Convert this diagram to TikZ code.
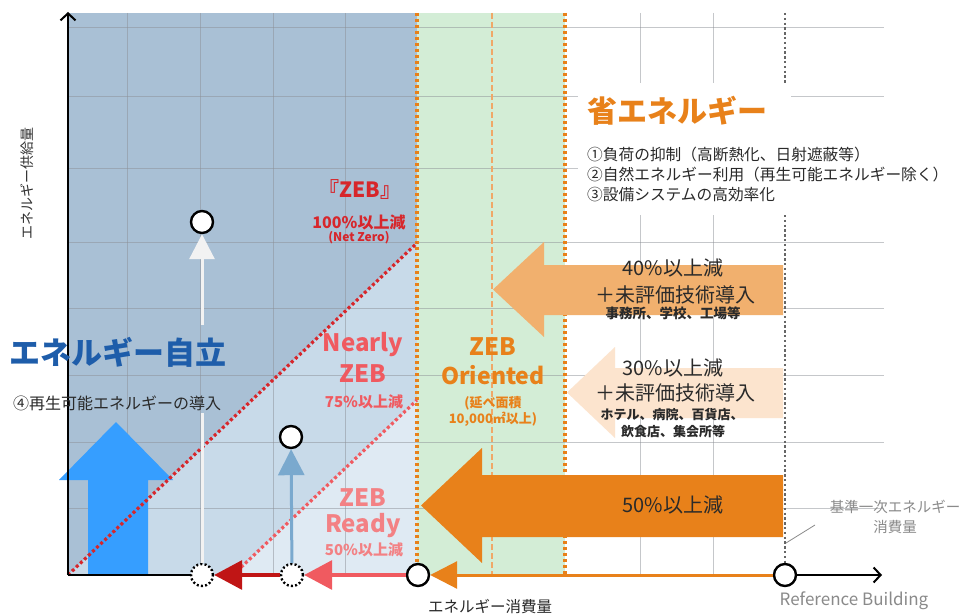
\documentclass[tikz,border=0pt]{standalone}
\usepackage{fontspec}
\setmainfont{Noto Sans CJK JP}
\usetikzlibrary{arrows.meta}
\definecolor{bgdark}{HTML}{A9C0D5}
\definecolor{bgmid}{HTML}{C8DAE9}
\definecolor{bglight}{HTML}{DFEAF3}
\definecolor{zgreen}{HTML}{D3EDD6}
\definecolor{zorange}{HTML}{E8811A}
\definecolor{lorange}{HTML}{F1B06E}
\definecolor{dashor}{HTML}{F0A868}
\definecolor{peach}{HTML}{FCE4CE}
\definecolor{zred}{HTML}{D7262B}
\definecolor{nred}{HTML}{F05A60}
\definecolor{rpink}{HTML}{F38184}
\definecolor{darkred}{HTML}{C01515}
\definecolor{bigblue}{HTML}{369EFF}
\definecolor{stblue}{HTML}{7AA9CE}
\definecolor{jblue}{HTML}{1E5DAA}
\definecolor{txt}{HTML}{2A2A2A}
\definecolor{greytxt}{HTML}{8A8A8A}
\definecolor{gridc}{HTML}{8C9096}
\tikzset{
  gridline/.style={draw=gridc, draw opacity=0.5, line width=0.8pt},
  pt/.style={circle, draw=black, line width=2.4pt, fill=white, minimum size=22pt, inner sep=0pt},
  dpt/.style={circle, draw=black, line width=2.4pt, dash pattern=on 2pt off 2.2pt, fill=white, minimum size=22pt, inner sep=0pt},
  lbl/.style={inner sep=0pt, text=txt},
  fs/.style={font=\fontsize{#1}{#1}\selectfont},
  fsb/.style={font=\fontsize{#1}{#1}\selectfont\bfseries},
  ordot/.style={draw=zorange, line width=3.2pt, dash pattern=on 3pt off 3pt},
  reddot/.style={line width=3.2pt, dash pattern=on 3pt off 2.6pt},
}
\begin{document}
\begin{tikzpicture}[x=1pt,y=-1pt]
\path[fill=white, use as bounding box] (0,0) rectangle (967,615);
% background regions
\fill[bgdark] (68,13) rectangle (417,575);
\fill[bgmid] (68,575) -- (417,243) -- (417,575) -- cycle;
\fill[bglight] (233,575) -- (417,400) -- (417,575) -- cycle;
\fill[zgreen] (417,13) rectangle (565,575);
% grid
\foreach \gx in {127,200,273,345,640,713} \draw[gridline] (\gx,13) -- (\gx,575);
\foreach \gy in {27,96,168,242,308,375,442,508} \draw[gridline] (68,\gy) -- (884,\gy);
% white boxes behind energy saving text
\fill[white] (578,83) rectangle (791,215);
\fill[white] (791,135) rectangle (965,215);
% vertical guide lines
\draw[ordot] (417,13) -- (417,575);
\draw[ordot] (565,13) -- (565,575);
\draw[draw=dashor, line width=1.6pt, dash pattern=on 6pt off 3pt] (492,13) -- (492,575);
\draw[draw=gray!80!black, line width=2.6pt, dash pattern=on 2.4pt off 2.4pt] (785,13) -- (785,83);
\draw[draw=gray!80!black, line width=2.6pt, dash pattern=on 2.4pt off 2.4pt] (785,215) -- (785,563);
% big reduction arrows
\fill[lorange] (783,265) -- (544,265) -- (544,242) -- (493,289.5) -- (544,337) -- (544,315) -- (783,315) -- cycle;
\fill[peach] (783,368) -- (615,368) -- (615,347) -- (567,392.5) -- (615,438) -- (615,418) -- (783,418) -- cycle;
\fill[zorange] (783,475) -- (482,475) -- (482,448) -- (421,505.5) -- (482,563) -- (482,537) -- (783,537) -- cycle;
% blue big arrow
\fill[bigblue] (88,575) -- (88,480) -- (59,480) -- (116,422) -- (173,480) -- (148,480) -- (148,575) -- cycle;
% diagonals
\draw[reddot, draw=zred] (68,575) -- (417,243);
\draw[reddot, draw=nred] (233,575) -- (417,400);
% points
\coordinate (O) at (68,575);
\coordinate (ytop) at (68,12);
\coordinate (xend) at (882,575);
\node[pt] (ref) at (785,575) {};
\node[pt] (zeb) at (418,575) {};
\node[dpt] (c2) at (292,575) {};
\node[dpt] (c1) at (202,575) {};
\node[pt] (cn) at (291,437) {};
\node[pt] (cz) at (202,222) {};
\coordinate (wA) at (202,413);
\coordinate (wB) at (202,325);
% axes
\draw[line width=2.2pt, -{Straight Barb[length=7pt,width=15pt,line width=2pt]}] (O) -- (ytop);
\draw[line width=2.2pt] (O) -- (c1);
\draw[line width=2.2pt, -{Straight Barb[length=7pt,width=15pt,line width=2pt]}] (ref) -- (xend);
% connectors on axis
\draw[zorange, line width=3pt, -{Triangle[length=27pt,width=27pt]}] (ref) -- (zeb);
\draw[nred, line width=3.5pt, -{Triangle[length=28pt,width=29pt]}] (zeb) -- (c2);
\draw[darkred, line width=3.5pt, -{Triangle[length=28pt,width=29pt]}] (c2) -- (c1);
% vertical arrows
\draw[stblue, line width=3pt, -{Triangle[length=26pt,width=26pt]}] (c2) -- (cn);
\draw[white!95!black, line width=3pt] (c1) -- (wA);
\draw[white!95!black, line width=3pt, -{Triangle[length=25pt,width=25pt]}] (wB) -- (cz);
% texts
\node[lbl, fs=14, rotate=90, text=black!80] (ylab) at (27,183) {エネルギー供給量};
\node[lbl, fs=15.5] (xlab) at (490,607) {エネルギー消費量};
\node[lbl, fs=17, text=greytxt] (refb) at (854,601) {Reference Building};
\node[lbl, fs=14.5, text=greytxt] (base1) at (895,507) {基準一次エネルギー};
\node[lbl, fs=14.5, text=greytxt] (base2) at (895,527) {消費量};
\coordinate (leadA) at (815,525);
\coordinate (leadB) at (786,543);
\draw[greytxt, line width=0.8pt] (leadA) -- (leadB);
\node[lbl, fsb=30, text=zorange, anchor=west] (shoene) at (587,111) {省エネルギー};
\node[lbl, fs=15.7, anchor=west] (it1) at (587,155) {①負荷の抑制（高断熱化、日射遮蔽等）};
\node[lbl, fs=15.7, anchor=west] (it2) at (587,175) {②自然エネルギー利用（再生可能エネルギー除く）};
\node[lbl, fs=15.7, anchor=west] (it3) at (587,195) {③設備システムの高効率化};
\node[lbl, fsb=31, text=jblue, anchor=west] (jiritsu) at (9,352) {エネルギー自立};
\node[lbl, fs=16, anchor=west] (it4) at (13,403) {④再生可能エネルギーの導入};
% ZEB labels
\node[lbl, fsb=21, text=zred] (zebT) at (360,190) {『ZEB』};
\node[lbl, fsb=16, text=zred] (zeb100) at (359,222) {100\%以上減};
\node[lbl, fsb=12, text=zred] (netz) at (359,238) {(Net Zero)};
\node[lbl, fsb=24, text=nred] (nearly1) at (363,345) {Nearly};
\node[lbl, fsb=24, text=nred] (nearly2) at (363,374) {ZEB};
\node[lbl, fsb=15, text=nred] (nearly3) at (364,402) {75\%以上減};
\node[lbl, fsb=24, text=rpink] (ready1) at (363,498) {ZEB};
\node[lbl, fsb=24, text=rpink] (ready2) at (363,526) {Ready};
\node[lbl, fsb=15, text=rpink] (ready3) at (364,550) {50\%以上減};
\node[lbl, fsb=24, text=zorange] (ori1) at (493,347) {ZEB};
\node[lbl, fsb=23, text=zorange] (ori2) at (493,375) {Oriented};
\node[lbl, fsb=13, text=zorange] (ori3) at (493,403) {(延べ面積};
\node[lbl, fsb=13, text=zorange] (ori4) at (493,419) {10,000㎡以上)};
% arrow labels
\node[lbl, fs=20] (a40a) at (673,268) {40\%以上減};
\node[lbl, fs=20] (a40b) at (675,295) {＋未評価技術導入};
\node[lbl, fsb=13.5] (a40c) at (673,313) {事務所、学校、工場等};
\node[lbl, fs=20] (a30a) at (673,368) {30\%以上減};
\node[lbl, fs=20] (a30b) at (675,393) {＋未評価技術導入};
\node[lbl, fsb=13] (a30c) at (672,415) {ホテル、病院、百貨店、};
\node[lbl, fsb=13] (a30d) at (673,432) {飲食店、集会所等};
\node[lbl, fs=20] (a50) at (673,505) {50\%以上減};
\end{tikzpicture}
\end{document}
